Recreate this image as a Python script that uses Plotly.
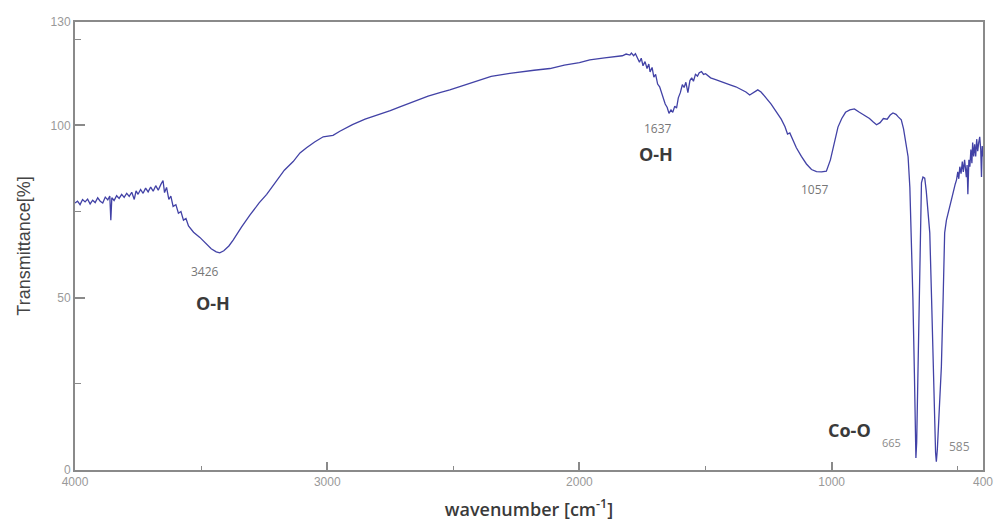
import plotly.graph_objects as go

wavenumber = [
    4000, 3990, 3980, 3970, 3960, 3950, 3940, 3930, 3920, 3910, 3900, 3890, 3880, 3870,
    3862, 3858, 3854, 3845, 3835, 3825, 3815, 3805, 3795, 3785, 3775, 3765, 3758, 3750,
    3740, 3730, 3720, 3710, 3700, 3690, 3680, 3670, 3660, 3651, 3645, 3637, 3628, 3620,
    3611, 3600, 3590, 3580, 3570, 3560, 3550, 3530, 3505, 3480, 3460, 3440, 3426, 3410,
    3390, 3373, 3340, 3306, 3270, 3240, 3200, 3170, 3135, 3108, 3082, 3050, 3016, 2990,
    2977, 2950, 2900, 2850, 2800, 2750, 2712, 2650, 2600, 2550, 2514, 2450, 2400, 2350,
    2276, 2230, 2180, 2117, 2060, 2000, 1959, 1900, 1860, 1830, 1815, 1800, 1794, 1785,
    1778, 1770, 1762, 1755, 1748, 1740, 1732, 1725, 1720, 1712, 1705, 1698, 1690, 1682,
    1675, 1668, 1660, 1652, 1645, 1637, 1630, 1622, 1615, 1608, 1600, 1592, 1585, 1578,
    1570, 1562, 1555, 1548, 1540, 1532, 1525, 1516, 1508, 1500, 1480, 1460, 1440, 1420,
    1400, 1380, 1360, 1340, 1325, 1310, 1293, 1280, 1260, 1240, 1220, 1200, 1185, 1175,
    1166, 1155, 1140, 1120, 1100, 1080, 1060, 1040, 1021, 1005, 990, 975, 960, 945,
    928, 910, 890, 870, 850, 835, 822, 808, 795, 780, 768, 757, 745, 735,
    724, 715, 705, 697, 690, 684, 678, 672, 668, 666, 663, 660, 657, 652,
    648, 644, 638, 631, 625, 618, 611, 604, 598, 592, 588, 585, 581, 575,
    570, 565, 558, 552, 545, 539, 530, 520, 510, 505, 500, 496, 492, 487,
    482, 478, 473, 469, 466, 463, 460, 456, 452, 448, 444, 441, 437, 433,
    429, 425, 421, 417, 413, 409, 406, 403, 400,
]

transmittance = [
    77.5, 78.0, 77.0, 78.5, 77.8, 78.6, 77.2, 78.3, 77.6, 79.0, 78.0, 77.5, 79.2, 78.4,
    79.5, 72.5, 79.0, 78.2, 79.6, 78.8, 80.0, 79.1, 80.3, 79.4, 80.6, 78.5, 81.0, 80.0,
    81.4, 80.3, 81.8, 80.7, 82.1, 80.9, 82.5, 81.2, 82.8, 84.0, 80.5, 82.0, 78.5, 79.5,
    76.5, 77.0, 74.5, 75.0, 72.5, 73.0, 70.8, 69.0, 67.5, 65.5, 64.2, 63.3, 63.0, 63.6,
    65.0, 66.7, 70.5, 74.0, 77.5, 80.0, 84.0, 87.0, 89.5, 92.0, 93.5, 95.2, 96.7, 97.0,
    97.1, 98.3, 100.2, 101.8, 103.0, 104.3, 105.4, 107.2, 108.5, 109.6, 110.3, 111.8, 113.0, 114.2,
    115.1, 115.6, 116.0, 116.5, 117.5, 118.2, 119.0, 119.6, 120.0, 120.2, 120.7, 120.4, 121.0, 120.2,
    120.8, 119.5, 118.3, 119.5, 117.3, 118.5, 116.5, 117.8, 115.5, 116.8, 114.0, 114.8, 112.0, 111.2,
    109.5, 108.0, 106.2, 105.2, 103.5, 104.5, 103.8, 105.6, 105.0, 108.0, 109.5, 111.8, 111.0, 112.5,
    109.5, 113.0, 113.8, 112.8, 114.8, 114.3, 115.3, 115.6, 114.8, 115.0, 113.8, 113.3, 112.7, 112.3,
    111.7, 111.2, 110.5, 109.7, 108.8, 109.5, 110.3, 109.7, 108.0, 106.2, 104.0, 101.8, 99.6, 97.5,
    97.8, 96.0, 93.5, 91.0, 88.8, 87.2, 86.6, 86.5, 86.7, 90.0, 95.0, 99.5, 102.0, 103.8,
    104.5, 104.8, 103.8, 103.0, 102.0, 101.0, 100.2, 100.8, 102.0, 101.8, 103.0, 103.6, 103.2, 102.4,
    101.6, 99.0, 95.0, 90.9, 82.0, 68.8, 50.0, 28.0, 12.0, 3.5, 8.0, 20.0, 30.0, 55.0,
    72.0, 83.3, 85.0, 84.7, 81.0, 75.0, 68.8, 50.0, 30.0, 12.0, 5.0, 2.4, 6.0, 15.0,
    24.0, 30.0, 50.0, 68.8, 72.5, 74.5, 77.0, 80.0, 83.0, 84.2, 86.5, 84.5, 88.0, 86.0,
    89.5, 86.5, 90.0, 87.0, 85.0, 88.5, 80.0, 90.0, 88.0, 93.0, 89.0, 95.0, 91.0, 94.5,
    91.0, 96.0, 92.5, 95.0, 96.7, 93.0, 85.0, 94.0, 91.0,
]

x_ticks = [4000, 3000, 2000, 1000, 400]
x_minor = [3500, 2500, 1500, 500]
y_ticks = [0, 50, 100, 130]
y_minor = [25, 75, 125]

# peak labels: (wavenumber, transmittance, text, size, bold, color)
peak_labels = [
    (3485, 57.5, "3426", 12, False, "#777777"),
    (3453, 48.4, "O-H", 18, True, "#3a3a3a"),
    (1689, 99.0, "1637", 12, False, "#777777"),
    (1695, 91.7, "O-H", 18, True, "#3a3a3a"),
    (1067, 81.3, "1057", 12, False, "#777777"),
    (928, 11.6, "Co-O", 18, True, "#3a3a3a"),
    (763, 7.9, "665", 11, False, "#8a8a8a"),
    (493, 6.8, "585", 12, False, "#8a8a8a"),
]

fig = go.Figure()
fig.add_trace(go.Scatter(
    x=wavenumber, y=transmittance, mode="lines",
    line=dict(color="#4242a6", width=1.3), showlegend=False,
))

for wx, ty, txt, sz, bold, col in peak_labels:
    fig.add_annotation(
        x=wx, y=ty, xref="x", yref="y", text=txt, showarrow=False,
        font=dict(family="Open Sans", size=sz, color=col,
                  weight="bold" if bold else "normal"),
    )

axis_common = dict(
    showline=True, linecolor="#8a8a8a", linewidth=2, mirror=True,
    showgrid=False, zeroline=False, ticks="inside", tickcolor="#8a8a8a",
    tickfont=dict(family="Liberation Sans", size=12, color="#999999"),
)

fig.update_xaxes(
    range=[4000, 400], tickmode="array", tickvals=x_ticks,
    ticktext=[str(v) for v in x_ticks], ticklen=8, tickwidth=1.5,
    automargin=False,
    minor=dict(tickmode="array", tickvals=x_minor, ticks="inside", ticklen=4,
               tickcolor="#8a8a8a", tickwidth=1),
    title=dict(text="wavenumber [cm<sup>-1</sup>]",
               font=dict(family="Open Sans", size=18, color="#3a3a3a", weight=600)),
    **axis_common,
)
fig.update_yaxes(
    range=[0, 130], tickmode="array", tickvals=y_ticks,
    ticktext=[str(v) for v in y_ticks], ticklen=10, tickwidth=1.5,
    automargin=False,
    minor=dict(tickmode="array", tickvals=y_minor, ticks="inside", ticklen=6,
               tickcolor="#8a8a8a", tickwidth=1),
    title=dict(text="Transmittance[%]",
               font=dict(family="Liberation Sans", size=18, color="#444444")),
    **axis_common,
)

fig.update_layout(
    width=998, height=521,
    margin=dict(l=75, r=15, t=22, b=51),
    plot_bgcolor="white", paper_bgcolor="white",
)

fig.write_html("out.html")
